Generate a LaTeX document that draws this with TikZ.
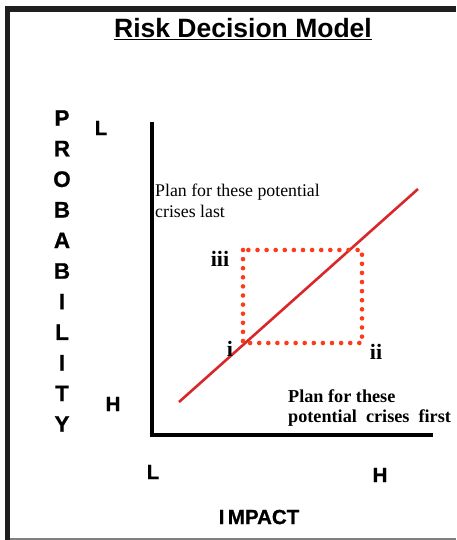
\documentclass[tikz,border=0pt]{standalone}
\usepackage{fontspec}
\setmainfont{Liberation Serif}
\setsansfont{Liberation Sans}
\newfontfamily\heavysans[FakeBold=0.8]{Liberation Sans Bold}
\begin{document}
\begin{tikzpicture}[x=1pt,y=-1pt,
  frame/.style={fill=black!88,draw=none},
  sanslbl/.style={font=\heavysans\fontsize{20.5}{20.5}\selectfont,inner sep=0pt,anchor=center},
  vertlbl/.style={sanslbl,font=\heavysans\fontsize{22.5}{22.5}\selectfont},
  seriflbl/.style={font=\fontsize{17.8}{21}\selectfont,inner sep=0pt,align=left},
  romlbl/.style={font=\bfseries\fontsize{22}{22}\selectfont,inner sep=0pt},
  axis/.style={line width=4pt,black},
  diag/.style={line width=2.6pt,draw={rgb,255:red,216;green,40;blue,42}},
  dotbox/.style={draw={rgb,255:red,255;green,58;blue,26},line width=4.6pt,line cap=round,dash pattern=on 0pt off 9.1pt}]
\useasboundingbox (0,0) rectangle (456,540);
% frame
\fill[frame] (5,6) rectangle (456,12);
\fill[frame] (5,6) rectangle (10,540);
\draw[black!50,line width=1.2pt] (10,539) -- (456,539);
% title
\node[font=\sffamily\bfseries\fontsize{26.5}{26.5}\selectfont,inner sep=0pt,anchor=base] (title) at (243,38) {\underline{Risk Decision Model}};
% axes
\coordinate (ytop) at (152,122);
\coordinate (origin) at (152,435);
\coordinate (xend) at (433,435);
\draw[axis] (ytop) -- (origin.center) -- (xend);
% probability label
\foreach \ch [count=\i from 0] in {P,R,O,B,A,B,I,L,I,T,Y}{
  \node[vertlbl] (p\i) at (62,{118+30.6*\i}) {\ch};
}
\node[sanslbl] (yl) at (101,128) {L};
\node[sanslbl] (yh) at (113,404) {H};
\node[sanslbl] (xl) at (153,472) {L};
\node[sanslbl] (xh) at (380,475) {H};
\node[sanslbl] (impact) at (259,517) {I\,MPACT};
% diagonal
\coordinate (d1) at (179,402);
\coordinate (d2) at (418,189);
\draw[diag] (d1) -- (d2);
% dotted box
\coordinate (b1) at (243,250);
\coordinate (b2) at (362,343);
\draw[dotbox] (b1) rectangle (b2);
\node[romlbl] (iii) at (220,259) {iii};
\node[romlbl] (i) at (230,349) {i};
\node[romlbl] (ii) at (376,352) {ii};
% texts
\node[seriflbl,anchor=north west] (last) at (155,184) {Plan for these potential\\crises last};
\node[seriflbl,font=\bfseries\fontsize{18.2}{20}\selectfont,anchor=north west] (first) at (288,389) {Plan for these\\potential\ \ crises\ \ first};
\end{tikzpicture}
\end{document}
